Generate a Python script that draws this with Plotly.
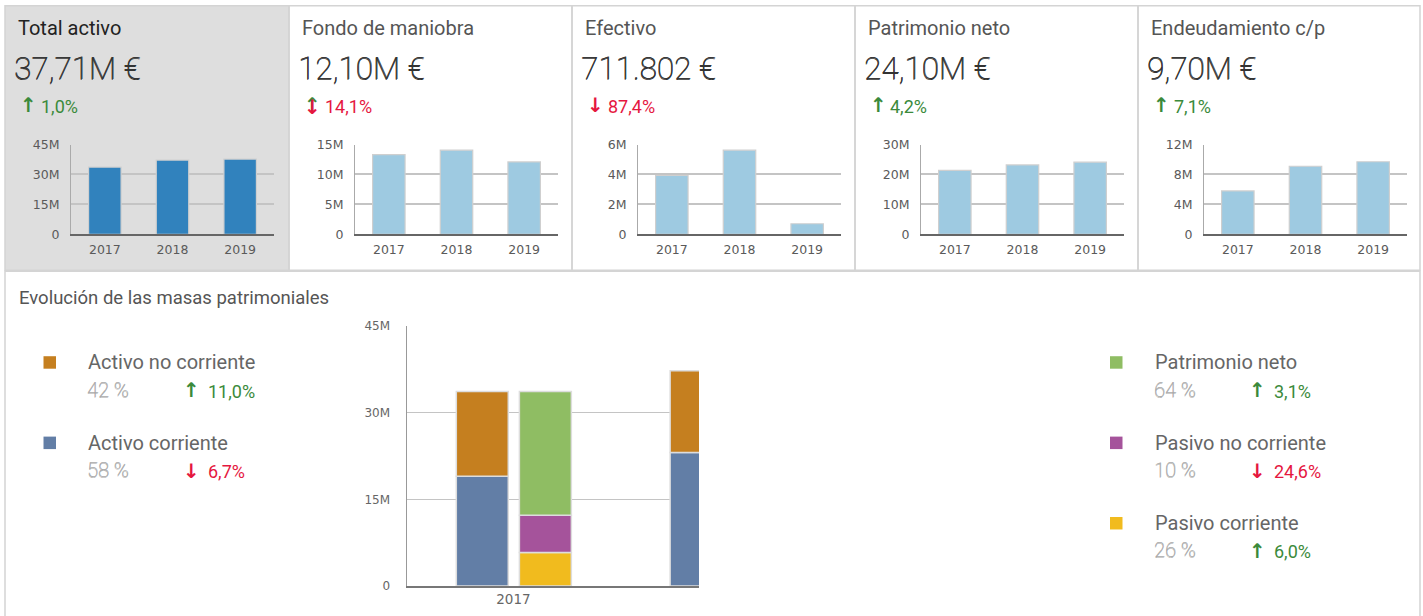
import plotly.graph_objects as go

W, H = 1423, 616

# ---------------- data ----------------
years = ["2017", "2018", "2019"]

card_titles = ["Total activo", "Fondo de maniobra", "Efectivo", "Patrimonio neto", "Endeudamiento c/p"]
card_values = ["37,71M €", "12,10M €", "711.802 €", "24,10M €", "9,70M €"]
card_changes = ["1,0%", "14,1%", "87,4%", "4,2%", "7,1%"]
card_dirs = ["up", "updown", "down", "up", "up"]

total_activo = [33.7, 37.2, 37.71]
fondo_maniobra = [13.3, 14.05, 12.10]
efectivo = [3.93, 5.62, 0.71]
patrimonio_neto_card = [21.35, 23.2, 24.10]
endeudamiento_cp = [5.8, 9.1, 9.70]
card_series = [total_activo, fondo_maniobra, efectivo, patrimonio_neto_card, endeudamiento_cp]

card_tickvals = [[0, 15, 30, 45], [0, 5, 10, 15], [0, 2, 4, 6], [0, 10, 20, 30], [0, 4, 8, 12]]
card_ticktext = [["0", "15M", "30M", "45M"], ["0", "5M", "10M", "15M"], ["0", "2M", "4M", "6M"],
                 ["0", "10M", "20M", "30M"], ["0", "4M", "8M", "12M"]]

bottom_title = "Evolución de las masas patrimoniales"
activo_corriente = [19.0, 23.1, 21.87]
activo_no_corriente = [14.7, 14.2, 15.84]
pasivo_corriente = [5.8, 9.1, 9.8]
pasivo_no_corriente = [6.45, 5.0, 3.8]
patrimonio_neto = [21.45, 23.2, 24.1]
bottom_tickvals = [0, 15, 30, 45]
bottom_ticktext = ["0", "15M", "30M", "45M"]

left_items = ["Activo no corriente", "Activo corriente"]
left_shares = ["42 %", "58 %"]
left_changes = ["11,0%", "6,7%"]
left_dirs = ["up", "down"]
right_items = ["Patrimonio neto", "Pasivo no corriente", "Pasivo corriente"]
right_shares = ["64 %", "10 %", "26 %"]
right_changes = ["3,1%", "24,6%", "6,0%"]
right_dirs = ["up", "down", "up"]

# ---------------- style ----------------
GREEN = "#3b8a3b"
RED = "#e5173f"
C_ANC = "#c57f1f"
C_AC = "#627ea6"
C_PN = "#8fbd63"
C_PNC = "#a5539b"
C_PC = "#f1bb1e"
item_colors = {"Activo no corriente": C_ANC, "Activo corriente": C_AC, "Patrimonio neto": C_PN,
               "Pasivo no corriente": C_PNC, "Pasivo corriente": C_PC}
FONT = "Roboto"
TICKFONT = "DejaVu Sans"

SY, OY = 0.977, 7.3


def px_x(v):
    return v / W


def px_y(v):
    return 1 - ((v - OY) / SY) / H


fig = go.Figure()
layout = dict(
    width=W, height=H, margin=dict(l=0, r=0, t=0, b=0),
    paper_bgcolor="white", plot_bgcolor="rgba(0,0,0,0)",
    showlegend=False, barmode="overlay",
    font=dict(family=FONT, color="#555"),
)
shapes = []
annotations = []

card_left = [5, 289, 572, 855, 1138]
card_right = [289, 572, 855, 1138, 1420]

shapes.append(dict(type="rect", xref="paper", yref="paper", x0=px_x(5), x1=px_x(289),
                   y0=px_y(270), y1=px_y(5), fillcolor="#dedede", line=dict(width=0), layer="below"))
for L, R in zip(card_left, card_right):
    shapes.append(dict(type="rect", xref="paper", yref="paper", x0=px_x(L), x1=px_x(R),
                       y0=px_y(270), y1=px_y(5), line=dict(color="#d4d4d4", width=1.5), layer="below"))
shapes.append(dict(type="rect", xref="paper", yref="paper", x0=px_x(5), x1=px_x(1420),
                   y0=px_y(640), y1=px_y(271), line=dict(color="#d4d4d4", width=1.5), layer="below"))


def text_annot(text, x, y, size, color, family=FONT, weight=None, shadow=None):
    f = dict(family=family, size=size, color=color)
    if weight is not None:
        f["weight"] = weight
    if shadow is not None:
        f["shadow"] = shadow
    return dict(text=text, x=px_x(x), y=px_y(y), xref="paper", yref="paper", xanchor="left",
                yanchor="middle", showarrow=False, font=f)


def light_shadow(c):
    return f"0.6px 0px 0px {c}, 0px 0.5px 0px {c}"


def arrow_annots(x, y, d, size):
    out = []
    if d in ("up", "updown"):
        out.append(text_annot("↑", x, y, size, GREEN, "DejaVu Sans", "bold"))
    if d in ("down", "updown"):
        out.append(text_annot("↓", x, y + (2 if d == "updown" else 0), size, RED, "DejaVu Sans", "bold"))
    return out


for i in range(5):
    L = card_left[i]
    n = i + 1
    xa = "xaxis" if n == 1 else f"xaxis{n}"
    ya = "yaxis" if n == 1 else f"yaxis{n}"
    xr = "x" if n == 1 else f"x{n}"
    yr = "y" if n == 1 else f"y{n}"
    color = "#3182bd" if i == 0 else "#9ecae1"
    fig.add_trace(go.Bar(x=years, y=card_series[i], xaxis=xr, yaxis=yr,
                         marker=dict(color=color, line=dict(color="#cfcfcf", width=1.2)),
                         width=0.48, hoverinfo="skip"))
    layout[xa] = dict(domain=[px_x(L + 66), px_x(L + 269)], anchor=yr, type="category",
                      range=[-0.5, 2.5], showgrid=False, showline=True, linecolor="#666", linewidth=2,
                      tickfont=dict(family=TICKFONT, size=12.5, color="#5a5a5a"),
                      ticklabelstandoff=3, fixedrange=True)
    layout[ya] = dict(domain=[px_y(234), px_y(144)], anchor=xr,
                      range=[0, card_tickvals[i][-1]], tickvals=card_tickvals[i],
                      ticktext=card_ticktext[i], showgrid=True, gridcolor="#c4c4c4", gridwidth=1.5,
                      showline=True, linecolor="#aaa", linewidth=1, zeroline=False,
                      tickfont=dict(family=TICKFONT, size=12.5, color="#5a5a5a"),
                      ticklabelstandoff=8, fixedrange=True)

    tcolor = "#222" if i == 0 else "#555"
    annotations.append(text_annot(card_titles[i], L + 10.5, 27.5, 20, tcolor))
    annotations.append(text_annot(card_values[i], L + 6.5, 68, 31.5, "#333", FONT, 100, light_shadow("#333")))
    d = card_dirs[i]
    annotations.extend(arrow_annots(L + 13, 104, d, 20))
    annotations.append(text_annot(card_changes[i], L + 33.5, 105.5, 18, GREEN if d == "up" else RED))

# ---------------- bottom chart ----------------
BW = 0.243
OFF_A = -0.267
OFF_P = 0.028
line_style = dict(color="#dddddd", width=1.5)
base_pnc = [a for a in pasivo_corriente]
base_pn = [a + b for a, b in zip(pasivo_corriente, pasivo_no_corriente)]
stack_defs = [
    ("Activo corriente", activo_corriente, [0, 0, 0], OFF_A),
    ("Activo no corriente", activo_no_corriente, activo_corriente, OFF_A),
    ("Pasivo corriente", pasivo_corriente, [0, 0, 0], OFF_P),
    ("Pasivo no corriente", pasivo_no_corriente, base_pnc, OFF_P),
    ("Patrimonio neto", patrimonio_neto, base_pn, OFF_P),
]
for name, vals, base, off in stack_defs:
    fig.add_trace(go.Bar(x=years, y=vals, base=base, name=name, xaxis="x6", yaxis="y6",
                         offset=off, width=BW,
                         marker=dict(color=item_colors[name], line=line_style), hoverinfo="skip"))

layout["xaxis6"] = dict(domain=[px_x(406.5), px_x(699)], anchor="y6", type="category",
                        range=[-0.5, 0.868], showgrid=False, showline=True, linecolor="#777", linewidth=2,
                        tickfont=dict(family=TICKFONT, size=13.5, color="#666"),
                        ticklabelstandoff=0, fixedrange=True)
layout["yaxis6"] = dict(domain=[px_y(586), px_y(326)], anchor="x6", range=[0, 45],
                        tickvals=bottom_tickvals, ticktext=bottom_ticktext,
                        showgrid=True, gridcolor="#c4c4c4", gridwidth=1, zeroline=False,
                        showline=True, linecolor="#999", linewidth=1,
                        tickfont=dict(family=TICKFONT, size=12, color="#666"),
                        ticklabelstandoff=13, fixedrange=True)

annotations.append(text_annot(bottom_title, 17, 298, 18.5, "#555"))


def legend_block(names, shares, changes, dirs, sq_x, lab_x, arr_x, txt_x):
    for k, name in enumerate(names):
        yc = 362 + 80.5 * k
        shapes.append(dict(type="rect", xref="paper", yref="paper", x0=px_x(sq_x), x1=px_x(sq_x + 12.5),
                           y0=px_y(yc + 6.5), y1=px_y(yc - 6), fillcolor=item_colors[name],
                           line=dict(width=0)))
        annotations.append(text_annot(name, lab_x, yc, 20, "#666"))
        annotations.append(text_annot(shares[k], lab_x - 1, yc + 27.5, 20, "#a8a8a8", FONT, 100,
                                      light_shadow("#a8a8a8")))
        annotations.extend(arrow_annots(arr_x, yc + 28, dirs[k], 20))
        annotations.append(text_annot(changes[k], txt_x, yc + 29, 18, GREEN if dirs[k] == "up" else RED))


legend_block(left_items, left_shares, left_changes, left_dirs, 43.5, 86, 181, 206)
legend_block(right_items, right_shares, right_changes, right_dirs, 1110, 1153, 1247, 1272)

layout["shapes"] = shapes
layout["annotations"] = annotations
fig.update_layout(**layout)
fig.write_html("out.html", config={"displayModeBar": False},
               post_script="document.body.style.margin='0';document.body.style.overflow='hidden';")
